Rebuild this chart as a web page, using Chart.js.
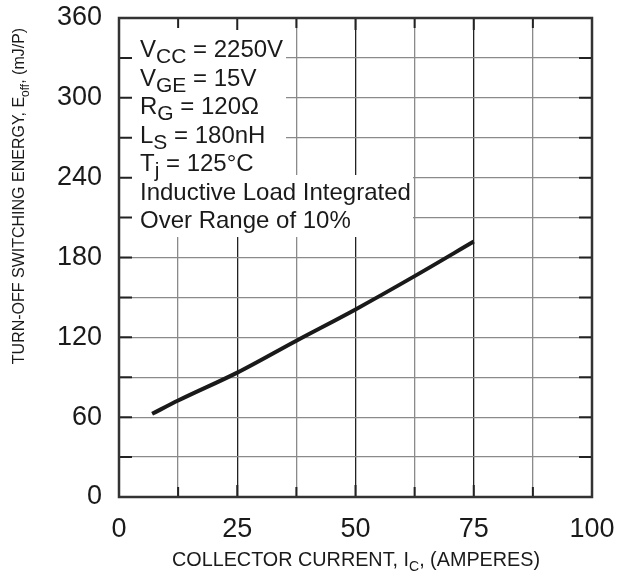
<!DOCTYPE html>
<html>
<head>
<meta charset="utf-8">
<script src="https://cdn.jsdelivr.net/npm/chart.js@4.4.0/dist/chart.umd.min.js"></script>
<style>
  html, body { margin: 0; padding: 0; background: #fff; }
  #wrap { width: 630px; height: 575px; position: relative; }
</style>
</head>
<body>
<div id="wrap"><canvas id="c"></canvas></div>
<script>
// Eoff vs Ic
var currentA = [7, 12.5, 25, 37.5, 50, 62.5, 75];
var energyMJ = [62.5, 72.5, 93.5, 117.5, 141, 166, 192];
var xMajorTicks = [0, 25, 50, 75, 100];
var yMajorTicks = [0, 60, 120, 180, 240, 300, 360];

var FONT = '"Liberation Sans", Arial, Helvetica, sans-serif';

// 條件文字 (主字, 下標, 後綴)
var notes = [
  ['V', 'CC', ' = 2250V'],
  ['V', 'GE', ' = 15V'],
  ['R', 'G', ' = 120\u03A9'],
  ['L', 'S', ' = 180nH'],
  ['T', 'j', ' = 125\u00B0C'],
  ['Inductive Load Integrated', '', ''],
  ['Over Range of 10%', '', '']
];

function textWidth(ctx, parts, size, subSize) {
  ctx.font = size + 'px ' + FONT;
  var w = ctx.measureText(parts[0]).width + ctx.measureText(parts[2]).width;
  ctx.font = subSize + 'px ' + FONT;
  return w + ctx.measureText(parts[1]).width;
}

function subText(ctx, x, y, parts, size, subSize, subDrop) {
  ctx.font = size + 'px ' + FONT;
  ctx.fillText(parts[0], x, y);
  x += ctx.measureText(parts[0]).width;
  if (parts[1]) {
    ctx.font = subSize + 'px ' + FONT;
    ctx.fillText(parts[1], x, y + subDrop);
    x += ctx.measureText(parts[1]).width;
  }
  if (parts[2]) {
    ctx.font = size + 'px ' + FONT;
    ctx.fillText(parts[2], x, y);
    x += ctx.measureText(parts[2]).width;
  }
  return x;
}

var overlay = {
  id: 'overlay',
  afterDraw: function(chart) {
    var ctx = chart.ctx, a = chart.chartArea;
    var xs = chart.scales.x, ys = chart.scales.y;
    ctx.save();

    // 文字框白底
    ctx.fillStyle = '#fff';
    ctx.fillRect(a.left + 1, a.top + 1, 285 - a.left, 175 - a.top);
    ctx.fillRect(a.left + 1, 175, 412 - a.left, 237 - 175);

    // 內側刻度
    ctx.strokeStyle = '#222';
    ctx.lineWidth = 2;
    ctx.beginPath();
    for (var v = 12.5; v < 100; v += 12.5) {
      var px = xs.getPixelForValue(v);
      var len = (v % 25 === 0) ? 12 : 10;
      ctx.moveTo(px, a.bottom); ctx.lineTo(px, a.bottom - len);
      ctx.moveTo(px, a.top); ctx.lineTo(px, a.top + len);
    }
    for (var w = 30; w < 360; w += 30) {
      var py = ys.getPixelForValue(w);
      ctx.moveTo(a.left, py); ctx.lineTo(a.left + 13, py);
      ctx.moveTo(a.right, py); ctx.lineTo(a.right - 13, py);
    }
    ctx.stroke();

    // 外框
    ctx.strokeStyle = '#333';
    ctx.lineWidth = 2.5;
    ctx.strokeRect(a.left, a.top, a.right - a.left, a.bottom - a.top);

    // 條件文字
    ctx.fillStyle = '#1a1a1a';
    ctx.textBaseline = 'alphabetic';
    ctx.textAlign = 'left';
    for (var i = 0; i < notes.length; i++) {
      subText(ctx, 140, 57 + i * 28.5, notes[i], 24, 21, 6);
    }

    // X 軸標題
    var xt = ['COLLECTOR CURRENT, I', 'C', ', (AMPERES)'];
    var wA = textWidth(ctx, xt, 19.8, 14);
    subText(ctx, 356 - wA / 2, 566, xt, 19.8, 14, 5);

    // Y 軸標題
    ctx.translate(24, 0);
    ctx.rotate(-Math.PI / 2);
    var yt = ['TURN-OFF SWITCHING ENERGY, E', 'off', ', (mJ/P)'];
    var wB = textWidth(ctx, yt, 16, 12);
    subText(ctx, -196 - wB / 2, 0, yt, 16, 12, 5);

    ctx.restore();
  }
};

new Chart(document.getElementById('c'), {
  type: 'line',
  data: {
    datasets: [{
      data: currentA.map(function(x, i) { return { x: x, y: energyMJ[i] }; }),
      borderColor: '#1a1a1a',
      borderWidth: 4,
      pointRadius: 0,
      tension: 0.4,
      cubicInterpolationMode: 'monotone',
      fill: false
    }]
  },
  options: {
    responsive: true,
    maintainAspectRatio: false,
    animation: false,
    devicePixelRatio: 1,
    layout: { padding: { left: 0, right: 38, top: 18, bottom: 0 } },
    plugins: { legend: { display: false }, tooltip: { enabled: false } },
    scales: {
      x: {
        type: 'linear',
        min: 0, max: 100,
        afterFit: function(s) { s.height = 78; s.paddingLeft = 0; s.paddingRight = 0; },
        afterBuildTicks: function(s) {
          var t = [];
          for (var v = 0; v <= 100; v += 12.5) t.push({ value: v });
          s.ticks = t;
        },
        ticks: {
          color: '#1a1a1a',
          font: { family: FONT, size: 27 },
          padding: 16,
          maxRotation: 0,
          autoSkip: false,
          callback: function(v) { return xMajorTicks.indexOf(v) >= 0 ? String(v) : ''; }
        },
        grid: {
          color: function(c) { return (c.tick && c.tick.value % 25 === 0) ? '#222' : '#8a8a8a'; },
          lineWidth: 1.3,
          drawTicks: false
        },
        border: { display: false }
      },
      y: {
        type: 'linear',
        min: 0, max: 360,
        afterFit: function(s) { s.width = 119; s.paddingTop = 0; s.paddingBottom = 0; },
        afterBuildTicks: function(s) {
          var t = [];
          for (var v = 0; v <= 360; v += 30) t.push({ value: v });
          s.ticks = t;
        },
        ticks: {
          color: '#1a1a1a',
          font: { family: FONT, size: 27 },
          padding: 17,
          autoSkip: false,
          callback: function(v) { return yMajorTicks.indexOf(v) >= 0 ? String(v) : ''; }
        },
        grid: { color: '#8a8a8a', lineWidth: 1.3, drawTicks: false },
        border: { display: false }
      }
    }
  },
  plugins: [overlay]
});
</script>
</body>
</html>
